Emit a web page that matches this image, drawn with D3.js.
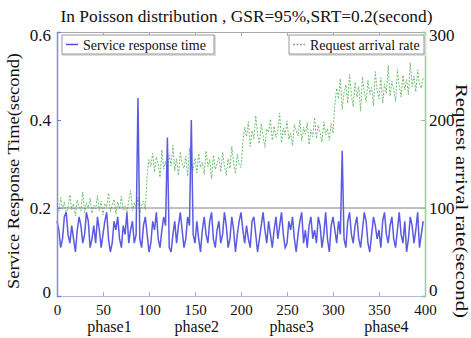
<!DOCTYPE html>
<html><head><meta charset="utf-8">
<script src="https://cdn.jsdelivr.net/npm/d3@7"></script>
<style>body{margin:0;background:#fff}svg{display:block}svg text{font-family:"Liberation Serif","Times New Roman","DejaVu Serif",serif}</style>
</head><body><svg id="c" width="471" height="338"></svg>
<script>
const title = "In Poisson distribution , GSR=95%,SRT=0.2(second)";
const xTicks = [0,50,100,150,200,250,300,350,400];
const leftTicks = [0,0.2,0.4,0.6];
const rightTicks = [0,100,200,300];
const phaseLabels = ["phase1","phase2","phase3","phase4"];
const phaseCenters = [57,152,255,358];
const srtThreshold = 0.2;
const sampleStep = 2;
const responseTime = [
0.17,0.15,0.11,0.13,0.18,0.19,0.14,0.12,0.16,0.13,0.10,0.15,0.18,0.16,0.12,0.14,0.19,0.17,0.11,0.13,
0.16,0.12,0.18,0.15,0.11,0.14,0.17,0.19,0.13,0.10,0.12,0.17,0.15,0.18,0.13,0.11,0.16,0.14,0.19,0.12,
0.15,0.17,0.12,0.14,0.45,0.13,0.11,0.16,0.18,0.14,0.10,0.12,0.17,0.15,0.19,0.13,0.11,0.15,0.18,0.16,
0.36,0.11,0.10,0.14,0.17,0.12,0.16,0.19,0.15,0.11,0.13,0.18,0.16,0.40,0.14,0.12,0.17,0.13,0.10,0.15,
0.18,0.14,0.12,0.17,0.19,0.13,0.11,0.15,0.17,0.12,0.14,0.19,0.16,0.11,0.13,0.18,0.15,0.10,0.14,0.17,
0.19,0.15,0.12,0.16,0.13,0.11,0.17,0.18,0.14,0.10,0.13,0.16,0.19,0.15,0.12,0.17,0.14,0.11,0.15,0.18,
0.13,0.16,0.19,0.14,0.11,0.12,0.17,0.15,0.18,0.13,0.10,0.14,0.17,0.19,0.12,0.15,0.11,0.16,0.18,0.13,
0.15,0.12,0.18,0.16,0.11,0.14,0.19,0.13,0.10,0.16,0.18,0.15,0.12,0.17,0.14,0.33,0.13,0.11,0.17,0.19,
0.14,0.12,0.16,0.18,0.13,0.11,0.15,0.19,0.17,0.12,0.10,0.14,0.18,0.16,0.13,0.15,0.11,0.17,0.19,0.14,
0.12,0.16,0.18,0.13,0.11,0.15,0.19,0.14,0.12,0.17,0.10,0.13,0.18,0.16,0.12,0.15,0.19,0.11,0.14,0.17];
const arrivalRate = [
104,96,112,99,107,93,101,115,98,105,91,109,102,97,118,95,106,100,111,94,
103,99,114,97,108,92,105,101,117,96,104,110,93,107,99,113,98,102,95,109,
120,97,106,100,112,94,103,108,98,
138,155,147,162,141,158,150,135,166,144,153,139,160,148,171,142,156,137,164,151,
145,159,136,168,149,143,157,140,162,146,152,138,165,147,155,133,160,144,150,158,
141,163,148,137,156,145,170,152,139,161,149,146,
175,192,181,198,170,188,179,205,184,173,196,182,169,190,186,201,177,193,180,187,
208,174,191,183,199,178,185,171,195,188,182,200,176,192,184,197,172,189,181,203,
179,194,186,175,198,183,190,177,196,185,
218,236,224,247,212,231,240,219,252,228,215,243,226,238,210,249,232,221,245,229,
237,216,255,233,224,248,219,241,230,262,227,244,235,221,258,239,226,251,234,246,
229,265,238,250,232,257,241,236,248];

const FONT = "Liberation Serif, Times New Roman, DejaVu Serif, serif";
const svg = d3.select("#c");
const m = {l:57, r:46, t:32, b:42};
const W = 471, H = 338;
const x = d3.scaleLinear().domain([0,400]).range([m.l, W-m.r]);
const yL = d3.scaleLinear().domain([0,0.6]).range([H-m.b, m.t]);
const yR = d3.scaleLinear().domain([0,300]).range([H-m.b, m.t]);

// arrival rate (green dotted)
const lineR = d3.line().x((d,i)=>x(i*sampleStep)).y(d=>yR(d));
svg.append("path").datum(arrivalRate).attr("d",lineR).attr("fill","none")
  .attr("stroke","#6cbf6c").attr("stroke-width",1).attr("stroke-dasharray","2,1.5");

// response time (blue)
const lineL = d3.line().x((d,i)=>x(i*sampleStep)).y(d=>yL(d));
svg.append("path").datum(responseTime).attr("d",lineL).attr("fill","none")
  .attr("stroke","#4848e0").attr("stroke-width",1.5).attr("stroke-opacity",0.9);

// threshold line
svg.append("line").attr("x1",x(0)).attr("x2",x(400)).attr("y1",yL(srtThreshold)).attr("y2",yL(srtThreshold))
  .attr("stroke","#808080").attr("stroke-width",1);

// axes (ticks inward)
const axB = svg.append("g").attr("transform",`translate(0,${H-m.b})`)
  .call(d3.axisBottom(x).tickValues(xTicks).tickSize(-4).tickPadding(8));
const axT = svg.append("g").attr("transform",`translate(0,${m.t})`)
  .call(d3.axisTop(x).tickValues(xTicks).tickSize(-4).tickFormat(""));
const axL = svg.append("g").attr("transform",`translate(${m.l},0)`)
  .call(d3.axisLeft(yL).tickValues(leftTicks).tickSize(-4).tickPadding(6).tickFormat(d=>d===0?"0":d3.format(".1f")(d)));
const axRt = svg.append("g").attr("transform",`translate(${W-m.r},0)`)
  .call(d3.axisRight(yR).tickValues(rightTicks).tickSize(-4).tickPadding(4));
[axB,axT,axL,axRt].forEach(g=>{
  g.attr("font-family",FONT).attr("font-size",17);
  g.selectAll("text").attr("fill","#111");
});
axB.attr("font-size",15);
axL.selectAll("text").attr("dy",(d)=>d===0?"0.1em":d===0.6?"0.5em":"0.32em");
axRt.selectAll("text").attr("dy",(d)=>d===0?"-0.02em":d===300?"0.5em":"0.32em");
axB.select(".domain").attr("stroke","#b8b8d8");
axT.select(".domain").attr("stroke","#a8a8a8");
axB.selectAll(".tick line").attr("stroke","#aaa");
axT.selectAll(".tick line").attr("stroke","#aaa");
axL.select(".domain").attr("stroke","#8a8ad8").attr("stroke-width",1.5);
axL.selectAll(".tick line").attr("stroke","#7a7ad8");
axRt.select(".domain").attr("stroke","#9ccc9c").attr("stroke-width",1.5);
axRt.selectAll(".tick line").attr("stroke","#8c8");

// phase labels
svg.append("g").selectAll("text").data(phaseLabels).join("text")
  .attr("x",(d,i)=>x(phaseCenters[i])).attr("y",332).attr("text-anchor","middle")
  .style("font-size","16px").attr("fill","#111").text(d=>d);

// title
svg.append("text").attr("x",246.5).attr("y",22).attr("text-anchor","middle")
  .style("font-size","17.5px").attr("fill","#111")
  .attr("textLength",372).attr("lengthAdjust","spacingAndGlyphs").text(title);

// axis titles
svg.append("text").attr("transform",`translate(19,${171}) rotate(-90)`).attr("text-anchor","middle")
  .style("font-size","17.5px").attr("fill","#111")
  .attr("textLength",236).attr("lengthAdjust","spacingAndGlyphs").text("Service Response Time(second)");
svg.append("text").attr("transform",`translate(456,${201}) rotate(90)`).attr("text-anchor","middle")
  .style("font-size","17px").attr("fill","#111")
  .attr("textLength",234).attr("lengthAdjust","spacingAndGlyphs").text("Request arrival rate(second)");

// legends
function legend(x0, y0, w, label, color, dash){
  const g = svg.append("g");
  g.append("rect").attr("x",x0+1).attr("y",y0+1).attr("width",w).attr("height",19).attr("fill","none").attr("stroke","#ddd").attr("stroke-width",2);
  g.append("rect").attr("x",x0).attr("y",y0).attr("width",w).attr("height",19).attr("fill","#fff").attr("stroke","#999");
  g.append("line").attr("x1",x0+4).attr("x2",x0+16).attr("y1",y0+9.5).attr("y2",y0+9.5)
    .attr("stroke",color).attr("stroke-width",1.4).attr("stroke-dasharray",dash);
  g.append("text").attr("x",x0+21).attr("y",y0+15).style("font-size","14px").attr("fill","#111").text(label);
}
legend(62,35,152,"Service response time","#4848e0",null);
legend(289,35,135,"Request arrival rate","#8a8","2,1.5");
</script></body></html>
